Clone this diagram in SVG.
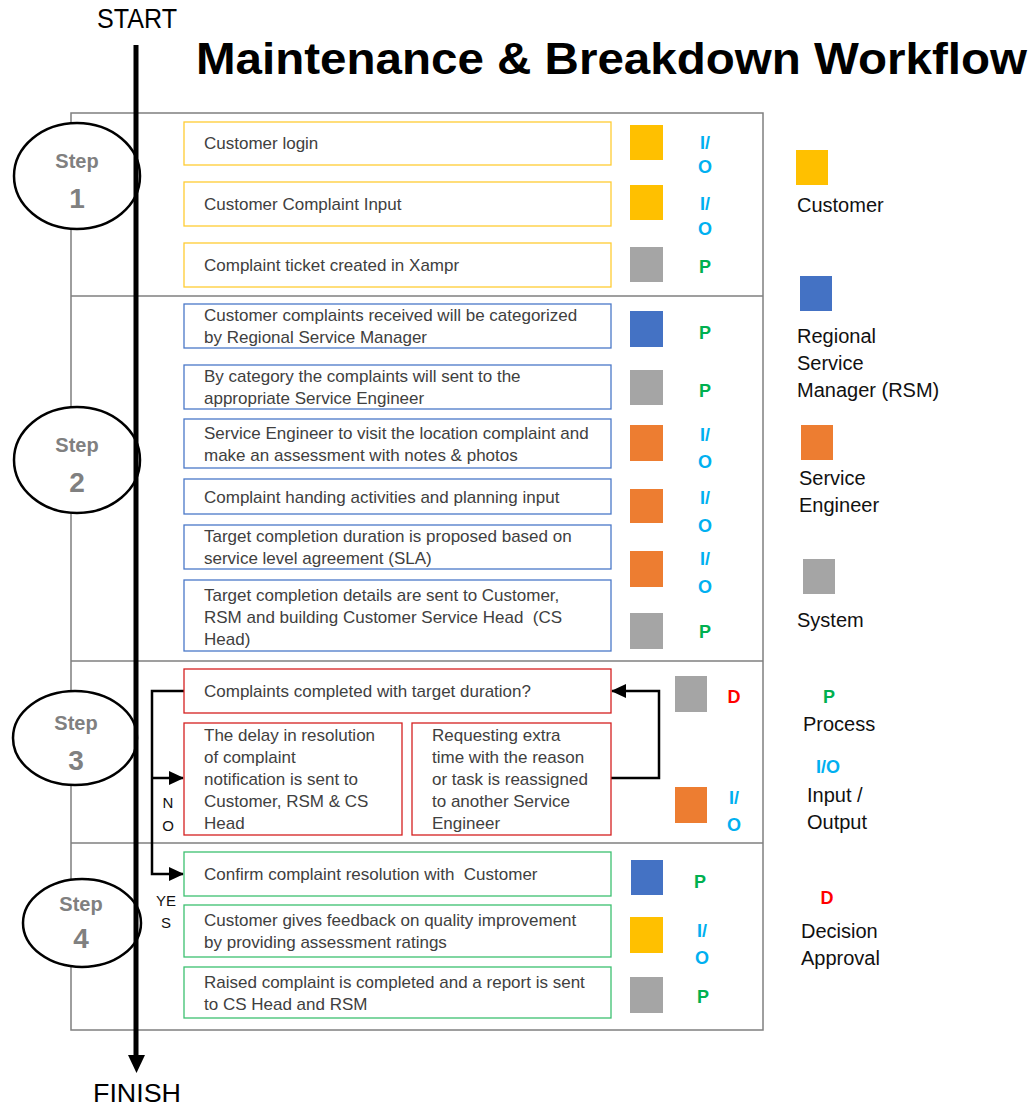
<svg xmlns="http://www.w3.org/2000/svg" width="1033" height="1108" viewBox="0 0 1033 1108">
<style>
.t{font-family:"Liberation Sans",Arial,sans-serif;font-size:17px;fill:#404040}
.lg{font-family:"Liberation Sans",Arial,sans-serif;font-size:20px;fill:#111}
.st{font-family:"Liberation Sans",Arial,sans-serif;font-weight:bold;fill:#808080;text-anchor:middle}
.io{font-family:"Liberation Sans",Arial,sans-serif;font-weight:bold;font-size:18px;fill:#00B0F0;text-anchor:middle}
.p{font-family:"Liberation Sans",Arial,sans-serif;font-weight:bold;font-size:18px;fill:#00B050;text-anchor:middle}
.d{font-family:"Liberation Sans",Arial,sans-serif;font-weight:bold;font-size:18px;fill:#FF0000;text-anchor:middle}
.yb{fill:#fff;stroke:#FFCC33;stroke-width:1.3}
.bb{fill:#fff;stroke:#4A78C8;stroke-width:1.3}
.rb{fill:#fff;stroke:#D42020;stroke-width:1.3}
.gb{fill:#fff;stroke:#3CC070;stroke-width:1.3}
.cy{fill:#FFC000}.cg{fill:#A5A5A5}.cb{fill:#4472C4}.co{fill:#ED7D31}
.ell{fill:#fff;stroke:#000;stroke-width:2.5}
.yn{font-family:"Liberation Sans",Arial,sans-serif;font-size:15px;fill:#111;text-anchor:middle}
</style>
<defs>
<marker id="ah" markerWidth="15" markerHeight="14" refX="14" refY="7" orient="auto" markerUnits="userSpaceOnUse" viewBox="0 0 15 14"><path d="M0,0 L15,7 L0,14 z" fill="#000"/></marker>
</defs>
<rect width="1033" height="1108" fill="#fff"/>
<text x="137" y="28" font-family="Liberation Sans, Arial, sans-serif" font-size="27" text-anchor="middle" textLength="80" lengthAdjust="spacingAndGlyphs" fill="#000">START</text>
<text x="196" y="74" font-family="Liberation Sans, Arial, sans-serif" font-size="44" font-weight="bold" textLength="831" lengthAdjust="spacingAndGlyphs" fill="#000">Maintenance &amp; Breakdown Workflow</text>
<text x="137" y="1102" font-family="Liberation Sans, Arial, sans-serif" font-size="26" text-anchor="middle" textLength="88" lengthAdjust="spacingAndGlyphs" fill="#000">FINISH</text>

<g id="frame" fill="none" stroke="#7f7f7f" stroke-width="1.5">
<rect x="71" y="113" width="692" height="917"/>
<line x1="71" y1="296" x2="763" y2="296"/>
<line x1="71" y1="661" x2="763" y2="661"/>
<line x1="71" y1="843" x2="763" y2="843"/>
</g>

<g id="steps">
<g id="step1"><ellipse class="ell" cx="77" cy="176" rx="63" ry="53"/><text class="st" x="77" y="168" font-size="20">Step</text><text class="st" x="77" y="208" font-size="28">1</text></g>
<g id="step2"><ellipse class="ell" cx="77" cy="460" rx="63" ry="53"/><text class="st" x="77" y="452" font-size="20">Step</text><text class="st" x="77" y="492" font-size="28">2</text></g>
<g id="step3"><ellipse class="ell" cx="75" cy="738" rx="62" ry="47"/><text class="st" x="76" y="730" font-size="20">Step</text><text class="st" x="76" y="770" font-size="28">3</text></g>
<g id="step4"><ellipse class="ell" cx="82" cy="923" rx="59" ry="44"/><text class="st" x="81" y="911" font-size="20">Step</text><text class="st" x="81" y="948" font-size="28">4</text></g>
</g>

<g id="connectors" fill="none" stroke="#000">
<line x1="136" y1="45" x2="136" y2="1062" stroke-width="5"/>
<path d="M128,1055 L145,1055 L136.5,1073 z" fill="#000" stroke="none"/>
<path d="M184,691 H152 V874 H183" stroke-width="2.5" marker-end="url(#ah)"/>
<path d="M152,778 H183" stroke-width="2.5" marker-end="url(#ah)"/>
<path d="M611,778 H659 V691 H612" stroke-width="2.5" marker-end="url(#ah)"/>
</g>
<text class="yn" x="168" y="808">N</text>
<text class="yn" x="168" y="831">O</text>
<text class="yn" x="166" y="906">YE</text>
<text class="yn" x="166" y="928">S</text>

<g id="n1"><rect class="yb" x="184" y="122" width="427" height="43"/><text class="t" x="204" y="149">Customer login</text></g>
<g id="n2"><rect class="yb" x="184" y="182" width="427" height="44"/><text class="t" x="204" y="210">Customer Complaint Input</text></g>
<g id="n3"><rect class="yb" x="184" y="243" width="427" height="44"/><text class="t" x="204" y="271">Complaint ticket created in Xampr</text></g>

<g id="n4"><rect class="bb" x="184" y="304" width="427" height="44"/><text class="t" x="204" y="321">Customer complaints received will be categorized</text><text class="t" x="204" y="343">by Regional Service Manager</text></g>
<g id="n5"><rect class="bb" x="184" y="365" width="427" height="44"/><text class="t" x="204" y="382">By category the complaints will sent to the</text><text class="t" x="204" y="404">appropriate Service Engineer</text></g>
<g id="n6"><rect class="bb" x="184" y="419" width="427" height="49"/><text class="t" x="204" y="439">Service Engineer to visit the location complaint and</text><text class="t" x="204" y="461">make an assessment with notes &amp; photos</text></g>
<g id="n7"><rect class="bb" x="184" y="479" width="427" height="35"/><text class="t" x="204" y="503">Complaint handing activities and planning input</text></g>
<g id="n8"><rect class="bb" x="184" y="525" width="427" height="44"/><text class="t" x="204" y="542">Target completion duration is proposed based on</text><text class="t" x="204" y="564">service level agreement (SLA)</text></g>
<g id="n9"><rect class="bb" x="184" y="580" width="427" height="71"/><text class="t" x="204" y="601">Target completion details are sent to Customer,</text><text class="t" x="204" y="623" xml:space="preserve">RSM and building Customer Service Head  (CS</text><text class="t" x="204" y="645">Head)</text></g>

<g id="n10"><rect class="rb" x="184" y="669" width="427" height="44"/><text class="t" x="204" y="697">Complaints completed with target duration?</text></g>
<g id="n11"><rect class="rb" x="184" y="723" width="218" height="112"/><text class="t" x="204" y="741">The delay in resolution</text><text class="t" x="204" y="763">of complaint</text><text class="t" x="204" y="785">notification is sent to</text><text class="t" x="204" y="807">Customer, RSM &amp; CS</text><text class="t" x="204" y="829">Head</text></g>
<g id="n12"><rect class="rb" x="412" y="723" width="199" height="112"/><text class="t" x="432" y="741">Requesting extra</text><text class="t" x="432" y="763">time with the reason</text><text class="t" x="432" y="785">or task is reassigned</text><text class="t" x="432" y="807">to another Service</text><text class="t" x="432" y="829">Engineer</text></g>

<g id="n13"><rect class="gb" x="184" y="852" width="427" height="44"/><text class="t" x="204" y="880" xml:space="preserve">Confirm complaint resolution with  Customer</text></g>
<g id="n14"><rect class="gb" x="184" y="905" width="427" height="52"/><text class="t" x="204" y="926">Customer gives feedback on quality improvement</text><text class="t" x="204" y="948">by providing assessment ratings</text></g>
<g id="n15"><rect class="gb" x="184" y="967" width="427" height="51"/><text class="t" x="204" y="988">Raised complaint is completed and a report is sent</text><text class="t" x="204" y="1010">to CS Head and RSM</text></g>

<g id="roles">
<rect class="cy" x="630" y="125" width="33" height="35"/>
<rect class="cy" x="630" y="185" width="33" height="35"/>
<rect class="cg" x="630" y="247" width="33" height="35"/>
<rect class="cb" x="630" y="311" width="33" height="36"/>
<rect class="cg" x="630" y="370" width="33" height="35"/>
<rect class="co" x="630" y="425" width="33" height="36"/>
<rect class="co" x="630" y="489" width="33" height="34"/>
<rect class="co" x="630" y="551" width="33" height="36"/>
<rect class="cg" x="630" y="613" width="33" height="36"/>
<rect class="cg" x="675" y="676" width="32" height="36"/>
<rect class="co" x="675" y="787" width="32" height="36"/>
<rect class="cb" x="631" y="860" width="32" height="35"/>
<rect class="cy" x="630" y="917" width="33" height="36"/>
<rect class="cg" x="630" y="977" width="33" height="36"/>
</g>

<g id="types">
<text class="io" x="705" y="149">I/</text><text class="io" x="705" y="173">O</text>
<text class="io" x="705" y="210">I/</text><text class="io" x="705" y="235">O</text>
<text class="p" x="705" y="273">P</text>
<text class="p" x="705" y="339">P</text>
<text class="p" x="705" y="397">P</text>
<text class="io" x="705" y="441">I/</text><text class="io" x="705" y="468">O</text>
<text class="io" x="705" y="504">I/</text><text class="io" x="705" y="532">O</text>
<text class="io" x="705" y="565">I/</text><text class="io" x="705" y="593">O</text>
<text class="p" x="705" y="638">P</text>
<text class="d" x="734" y="703">D</text>
<text class="io" x="734" y="804">I/</text><text class="io" x="734" y="831">O</text>
<text class="p" x="700" y="888">P</text>
<text class="io" x="702" y="937">I/</text><text class="io" x="702" y="964">O</text>
<text class="p" x="703" y="1003">P</text>
</g>

<g id="legend">
<rect class="cy" x="796" y="150" width="32" height="35"/>
<text class="lg" x="797" y="212">Customer</text>
<rect class="cb" x="800" y="276" width="32" height="35"/>
<text class="lg" x="797" y="343">Regional</text><text class="lg" x="797" y="370">Service</text><text class="lg" x="797" y="397">Manager (RSM)</text>
<rect class="co" x="801" y="425" width="32" height="35"/>
<text class="lg" x="799" y="485">Service</text><text class="lg" x="799" y="512">Engineer</text>
<rect class="cg" x="803" y="559" width="32" height="35"/>
<text class="lg" x="797" y="627">System</text>
<text class="p" x="829" y="703">P</text>
<text class="lg" x="803" y="731">Process</text>
<text class="io" x="828" y="773">I/O</text>
<text class="lg" x="807" y="802">Input /</text><text class="lg" x="807" y="829">Output</text>
<text class="d" x="827" y="904">D</text>
<text class="lg" x="801" y="938">Decision</text><text class="lg" x="801" y="965">Approval</text>
</g>
</svg>
